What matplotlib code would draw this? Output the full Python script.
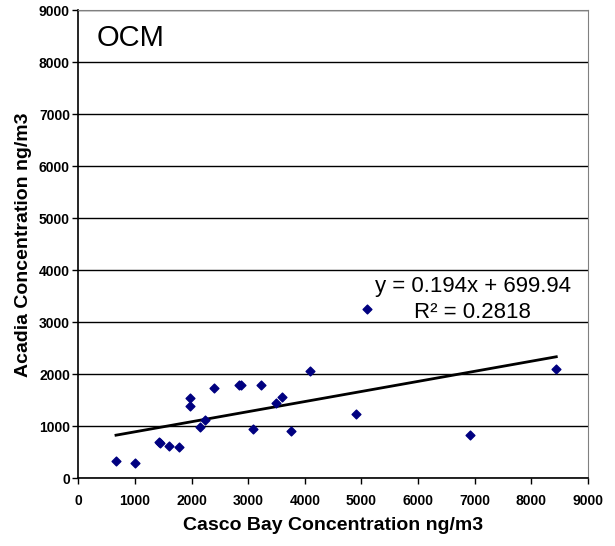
import matplotlib
matplotlib.use('Agg')
import matplotlib.pyplot as plt

plt.rcParams['font.family'] = ['Liberation Sans', 'DejaVu Sans']

# Casco Bay vs Acadia OCM concentrations
casco = [666, 1000, 1420, 1443, 1602, 1773, 1967, 1972, 2149, 2237, 2402,
         2843, 2878, 3221, 3090, 3496, 3602, 3756, 4097, 4909, 5093, 6922, 8441]
acadia = [338, 288, 698, 685, 627, 608, 1550, 1385, 987, 1121, 1742,
          1794, 1794, 1794, 954, 1442, 1569, 910, 2069, 1242, 3250, 827, 2096]
ticks = list(range(0, 9001, 1000))

slope = 0.194
intercept = 699.94
r2 = 0.2818

fig = plt.figure(figsize=(6.15, 5.46), dpi=100)
ax = fig.add_axes([0.1273, 0.124, 0.8287, 0.857])

ax.scatter(casco, acadia, marker='D', s=20, color='#000080', zorder=3)

xs = [min(casco), max(casco)]
ax.plot(xs, [slope * x + intercept for x in xs], color='black', lw=2, zorder=2)

ax.set_xlim(0, 9000)
ax.set_ylim(0, 9000)
ax.set_xticks(ticks)
ax.set_yticks(ticks)
ax.set_xticklabels([str(t) for t in ticks], fontsize=10, fontweight='bold')
ax.set_yticklabels([str(t) for t in ticks], fontsize=10, fontweight='bold')
ax.yaxis.grid(True, color='black', lw=1)
ax.set_axisbelow(True)
ax.tick_params(direction='out', length=4, width=1)
ax.tick_params(axis='x', pad=7)
ax.tick_params(axis='y', pad=2)

for s in ['left', 'bottom']:
    ax.spines[s].set_color('black')
    ax.spines[s].set_linewidth(1.2)
for s in ['top', 'right']:
    ax.spines[s].set_color('#808080')

ax.set_xlabel('Casco Bay Concentration ng/m3', fontsize=14, fontweight='bold', labelpad=7)
ax.set_ylabel('Acadia Concentration ng/m3', fontsize=14, fontweight='bold', labelpad=5)

ax.text(0.035, 0.924, 'OCM', transform=ax.transAxes, fontsize=21, va='baseline', ha='left')
ax.text(0.774, 0.409, 'y = 0.194x + 699.94', transform=ax.transAxes, fontsize=16,
        ha='center', va='center')
ax.text(0.774, 0.355, 'R² = 0.2818', transform=ax.transAxes, fontsize=16,
        ha='center', va='center')

fig.savefig('out.png', dpi=100)
